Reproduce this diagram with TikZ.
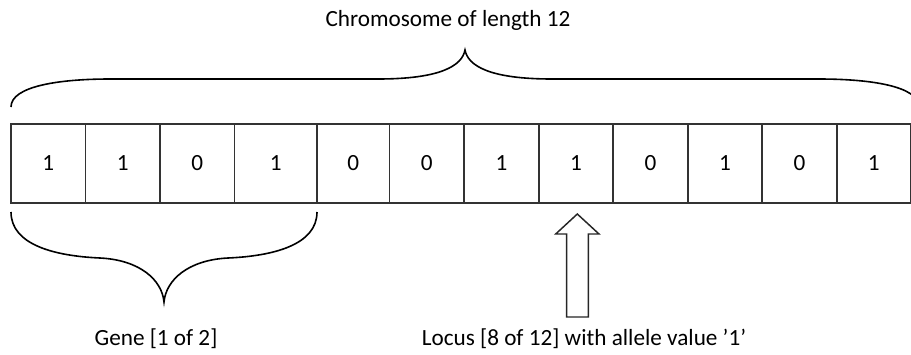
\documentclass[tikz,border=0pt]{standalone}
\usepackage{fontspec}
\setmainfont{Carlito}
\begin{document}
\begin{tikzpicture}[x=0.75pt,y=-0.75pt,
  cell/.style={draw=black!80, line width=1.1pt, minimum height=59.25pt,
    inner sep=0pt, font=\fontsize{17.4}{21}\selectfont, text=black},
  brace/.style={draw=black, line width=1.2pt},
  caption/.style={font=\fontsize{17.4}{21}\selectfont, text=black,
    anchor=base, inner sep=0pt},
  blockarrow/.style={draw=black!85, line width=1.1pt, fill=white, line join=miter}]
\useasboundingbox (0,0) rectangle (911,354);

% the twelve cells of the chromosome
\foreach \l/\r/\v [count=\i] in {11/85.5/1,85.5/160/1,160/234.5/0,234.5/317/1,
    317/389.5/0,389.5/464/0,464/539/1,539/613/1,613/688/0,688/762/1,762/837/0,837/910.5/1}
  \node[cell, minimum width={(\r-\l)*0.75pt}] (c\i) at ({(\l+\r)/2},163.5) {\v};

% brace over the whole chromosome
\draw[brace] (11,107) .. controls (11,86) and (60,79) .. (110,79) -- (378,79)
  .. controls (440,79) and (462,66) .. (465,50)
  .. controls (468,66) and (490,79) .. (552,79) -- (819,79)
  .. controls (870,79) and (919,86) .. (919,107);

% brace under the first gene
\draw[brace] (11,212) .. controls (11,245) and (55,256) .. (100,258)
  .. controls (140,260) and (162,280) .. (164,302)
  .. controls (166,280) and (188,260) .. (228,258)
  .. controls (273,256) and (317,245) .. (317,212);

% block arrow pointing at locus 8
\draw[blockarrow] (566.7,317) -- (566.7,234) -- (555.7,234) -- (577.3,214)
  -- (599,234) -- (588.3,234) -- (588.3,317) -- cycle;

\node[caption] (title) at (448,26) {Chromosome of length 12};
\node[caption] (gene) at (156,345.5) {Gene [1 of 2]};
\node[caption] (locus) at (584,345.5) {Locus [8 of 12] with allele value ’1’};
\end{tikzpicture}
\end{document}
